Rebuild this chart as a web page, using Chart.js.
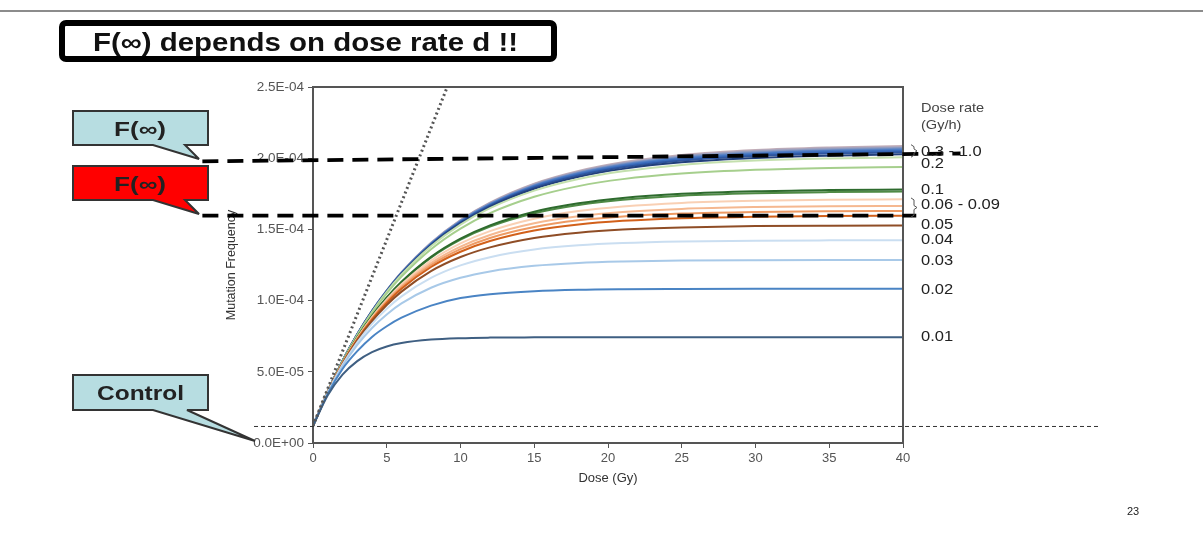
<!DOCTYPE html>
<html>
<head>
<meta charset="utf-8">
<script src="https://cdn.jsdelivr.net/npm/chart.js"></script>
<style>
  html, body { margin: 0; padding: 0; background: #fff; }
  #slide { position: relative; width: 1203px; height: 541px; overflow: hidden; }
  #grafico { position: absolute; left: 0; top: 0; }
  #overlay { position: absolute; left: 0; top: 0; pointer-events: none; }
</style>
</head>
<body>
<div id="slide">
  <canvas id="grafico" width="1203" height="541"></canvas>
  <svg id="overlay" width="1203" height="541" xmlns="http://www.w3.org/2000/svg">
    <line x1="0" y1="11" x2="1203" y2="11" stroke="#8c8c8c" stroke-width="2"/>
    <rect x="62" y="23" width="492" height="36" rx="4" fill="#fff" stroke="#000" stroke-width="6"/>
    <text x="93" y="51" textLength="425" lengthAdjust="spacingAndGlyphs" font-family="Liberation Sans, Arial, sans-serif" font-weight="bold" font-size="25" fill="#111">F(∞) depends on dose rate d !!</text>

    <path d="M73,111 H208 V145 H185 L199,159 L153,145 H73 Z" fill="#b7dde1" stroke="#333" stroke-width="2"/>
    <text x="114" y="136" textLength="52" lengthAdjust="spacingAndGlyphs" font-family="Liberation Sans, Arial, sans-serif" font-weight="bold" font-size="20" fill="#222">F(∞)</text>

    <path d="M73,166 H208 V200 H185 L199,214 L153,200 H73 Z" fill="#ff0000" stroke="#333" stroke-width="2"/>
    <text x="114" y="191" textLength="52" lengthAdjust="spacingAndGlyphs" font-family="Liberation Sans, Arial, sans-serif" font-weight="bold" font-size="20" fill="#222">F(∞)</text>

    <path d="M73,375 H208 V410 H187 L255,441 L153,410 H73 Z" fill="#b7dde1" stroke="#333" stroke-width="2"/>
    <text x="97" y="400" textLength="87" lengthAdjust="spacingAndGlyphs" font-family="Liberation Sans, Arial, sans-serif" font-weight="bold" font-size="20" fill="#222">Control</text>

    <text x="1133" y="515" text-anchor="middle" font-family="Liberation Sans, Arial, sans-serif" font-size="11" fill="#222">23</text>
  </svg>
</div>
<script>
// dosis (Gy) en que se leyeron las curvas
const doseGy = [0, 1, 2, 3, 4, 5, 6, 8, 10, 12, 15, 18, 21, 25, 30, 35, 40]

// frecuencia de mutación, en unidades de 1E-06, una lista por tasa de dosis (Gy/h)
const mf0_01 = [12, 33.5, 48, 57.5, 63.8, 67.8, 70.2, 72.6, 73.6, 74.0, 74.2, 74.3, 74.3, 74.3, 74.3, 74.3, 74.3]
const mf0_02 = [12, 34.5, 52, 64.5, 74.5, 82, 88, 96.5, 101.8, 104.5, 106.6, 107.6, 108, 108.2, 108.3, 108.3, 108.3]
const mf0_03 = [12, 35.3, 53.9, 68.9, 80.8, 90.3, 98.0, 109.0, 116.0, 120.5, 124.4, 126.4, 127.4, 128.1, 128.4, 128.5, 128.5]
const mf0_04 = [12, 35.6, 54.9, 70.7, 83.7, 94.3, 103.0, 115.9, 124.7, 130.5, 135.9, 138.8, 140.4, 141.5, 142.1, 142.3, 142.4]
const mf0_05 = [12, 35.7, 55.5, 71.9, 85.5, 96.9, 106.3, 120.7, 130.6, 137.4, 144.0, 147.7, 149.9, 151.4, 152.3, 152.6, 152.7]
const mf0_06 = [12, 35.8, 55.8, 72.6, 86.7, 98.4, 108.3, 123.6, 134.3, 141.8, 149.2, 153.5, 156.0, 157.9, 158.9, 159.4, 159.6]
const mf0_07 = [12, 35.9, 56.0, 72.9, 87.2, 99.2, 109.3, 125.0, 136.1, 144.0, 151.7, 156.4, 159.1, 161.1, 162.3, 162.8, 163.0]
const mf0_08 = [12, 35.9, 56.2, 73.3, 87.7, 99.9, 110.3, 126.4, 137.9, 146.1, 154.3, 159.2, 162.2, 164.4, 165.7, 166.3, 166.5]
const mf0_09 = [12, 36.0, 56.4, 73.7, 88.4, 100.9, 111.5, 128.1, 140.2, 148.8, 157.5, 162.9, 166.1, 168.6, 170.1, 170.8, 171.1]
const mf0_1a = [12, 36.1, 56.7, 74.2, 89.3, 102.2, 113.2, 130.7, 143.5, 152.8, 162.4, 168.3, 172.1, 175.0, 176.8, 177.6, 178.0]
const mf0_1b = [12, 36.0, 56.6, 74.1, 89.1, 101.9, 112.8, 130.2, 142.8, 152.0, 161.4, 167.2, 170.9, 173.7, 175.4, 176.2, 176.6]
const mf0_2a = [12, 36.2, 57.2, 75.5, 91.3, 105.0, 116.8, 136.1, 150.6, 161.4, 172.9, 180.4, 185.3, 189.2, 191.9, 193.2, 193.8]
const mf0_2b = [12, 36.3, 57.5, 75.9, 92.0, 106.1, 118.3, 138.2, 153.4, 164.9, 177.2, 185.4, 190.8, 195.3, 198.3, 199.8, 200.6]
const mf0_3 = [12, 36.3, 57.5, 76.0, 92.3, 106.3, 118.7, 138.9, 154.2, 165.9, 178.5, 186.9, 192.5, 197.1, 200.2, 201.8, 202.7]
const mf0_4 = [12, 36.3, 57.6, 76.1, 92.4, 106.6, 119.0, 139.3, 154.8, 166.6, 179.4, 187.9, 193.6, 198.4, 201.6, 203.3, 204.1]
const mf0_5 = [12, 36.3, 57.6, 76.2, 92.5, 106.7, 119.2, 139.6, 155.2, 167.1, 180.0, 188.6, 194.4, 199.2, 202.5, 204.2, 205.1]
const mf0_6 = [12, 36.3, 57.6, 76.3, 92.6, 106.8, 119.4, 139.8, 155.5, 167.5, 180.5, 189.2, 195.0, 199.9, 203.2, 205.0, 205.9]
const mf0_7 = [12, 36.3, 57.7, 76.3, 92.7, 106.9, 119.5, 140.0, 155.8, 167.8, 180.9, 189.6, 195.6, 200.5, 203.9, 205.6, 206.6]
const mf0_8 = [12, 36.3, 57.7, 76.3, 92.7, 107.0, 119.6, 140.2, 156.1, 168.2, 181.3, 190.1, 196.1, 201.1, 204.5, 206.3, 207.2]
const mf0_9 = [12, 36.3, 57.7, 76.4, 92.8, 107.1, 119.7, 140.4, 156.3, 168.4, 181.7, 190.5, 196.6, 201.6, 205.1, 206.9, 207.8]
const mf1_0 = [12, 36.3, 57.7, 76.4, 92.9, 107.2, 119.9, 140.6, 156.6, 168.8, 182.1, 191.0, 197.1, 202.2, 205.7, 207.5, 208.5]

// recta punteada (pendiente inicial)
const tangentDose = [0, 9.1]
const tangentFreq = [12, 250]

// líneas de nivel: F(∞) alto, F(∞) bajo y control
const fInfHighDose = [-7.5, 43.9]
const fInfHighFreq = [197.8, 203.3]
const fInfLowDose = [-7.5, 40.9]
const fInfLowFreq = [159.7, 159.7]
const controlDose = [-4, 53.4]
const controlFreq = [11.6, 11.6]

// etiquetas de tasa de dosis a la derecha
const rateLabels = ['0.3 - 1.0', '0.2', '0.1', '0.06 - 0.09', '0.05', '0.04', '0.03', '0.02', '0.01']
const rateLabelFreq = [204.2, 195.8, 177.8, 166.7, 152.8, 142.4, 127.8, 107.6, 74.3]

const yTicks = [0, 50, 100, 150, 200, 250]
const xTicks = [0, 5, 10, 15, 20, 25, 30, 35, 40]

const curvas = [
    {data: mf0_01, color: '#3f5f82'},
    {data: mf0_02, color: '#4a84c4'},
    {data: mf0_03, color: '#a8c9e8'},
    {data: mf0_04, color: '#cadef1'},
    {data: mf0_05, color: '#8f4d26'},
    {data: mf0_06, color: '#d2601a'},
    {data: mf0_07, color: '#ee9a63'},
    {data: mf0_08, color: '#f5b890'},
    {data: mf0_09, color: '#f9d0b4'},
    {data: mf0_1a, color: '#2e6b2e'},
    {data: mf0_1b, color: '#4f8a45'},
    {data: mf0_2a, color: '#a6cf8d'},
    {data: mf0_2b, color: '#c4e0ae'},
    {data: mf0_3, color: '#22407c'},
    {data: mf0_4, color: '#2e569f'},
    {data: mf0_5, color: '#3a6cbc'},
    {data: mf0_6, color: '#4d7cc4'},
    {data: mf0_7, color: '#6d8cc4'},
    {data: mf0_8, color: '#8f9bc0'},
    {data: mf0_9, color: '#aba6bd'},
    {data: mf1_0, color: '#c3aeb8'}
]

const datasets = [{
    data: tangentDose.map((d, i) => ({x: d, y: tangentFreq[i]})),
    borderColor: '#555',
    borderWidth: 3,
    borderDash: [2, 3],
    pointRadius: 0
}]
curvas.forEach((c) => {
    datasets.push({
        data: doseGy.map((d, i) => ({x: d, y: c.data[i]})),
        borderColor: c.color,
        borderWidth: 2,
        pointRadius: 0,
        cubicInterpolationMode: 'monotone'
    })
})

// formato 5.0E-05
function formatoCientifico(v) {
    if (v === 0) return '0.0E+00'
    const real = v * 1e-6
    const exp = Math.floor(Math.log10(real) + 1e-9)
    const mant = real / Math.pow(10, exp)
    const signo = exp < 0 ? '-' : '+'
    return `${mant.toFixed(1)}E${signo}${String(Math.abs(exp)).padStart(2, '0')}`
}

const fontNarrow = "'Liberation Sans Narrow', 'DejaVu Sans Condensed', sans-serif"
const fontSans = "'Liberation Sans', Arial, sans-serif"

// la diapositiva original está estirada en horizontal
function textoEstirado(ctx, txt, x, y, sx) {
    ctx.save()
    ctx.translate(x, y)
    ctx.scale(sx, 1)
    ctx.fillText(txt, 0, 0)
    ctx.restore()
}

const anotaciones = {
    id: 'anotaciones',
    afterDatasetsDraw(chart) {
        const {ctx, chartArea, scales: {x, y}} = chart
        ctx.save()
        // marco
        ctx.strokeStyle = '#555'
        ctx.lineWidth = 2
        ctx.strokeRect(chartArea.left, chartArea.top, chartArea.right - chartArea.left, chartArea.bottom - chartArea.top)

        // línea de control
        ctx.strokeStyle = '#333'
        ctx.lineWidth = 1
        ctx.setLineDash([4, 3])
        ctx.beginPath()
        ctx.moveTo(x.getPixelForValue(controlDose[0]), y.getPixelForValue(controlFreq[0]))
        ctx.lineTo(x.getPixelForValue(controlDose[1]), y.getPixelForValue(controlFreq[1]))
        ctx.stroke()

        // líneas F(∞)
        ctx.strokeStyle = '#000'
        ctx.lineWidth = 3.8
        ctx.setLineDash([16, 9])
        ;[[fInfHighDose, fInfHighFreq], [fInfLowDose, fInfLowFreq]].forEach(([ds, fs]) => {
            ctx.beginPath()
            ctx.moveTo(x.getPixelForValue(ds[0]), y.getPixelForValue(fs[0]))
            ctx.lineTo(x.getPixelForValue(ds[1]), y.getPixelForValue(fs[1]))
            ctx.stroke()
        })
        ctx.setLineDash([])

        // corchetes
        ctx.strokeStyle = '#555'
        ctx.lineWidth = 1
        const xr = chartArea.right + 8
        const corchete = (f1, f2) => {
            const y1 = y.getPixelForValue(f1), y2 = y.getPixelForValue(f2)
            const ym = (y1 + y2) / 2
            ctx.beginPath()
            ctx.moveTo(xr, y1)
            ctx.lineTo(xr + 3, y1 + 2)
            ctx.lineTo(xr + 3, ym - 2)
            ctx.lineTo(xr + 6, ym)
            ctx.lineTo(xr + 3, ym + 2)
            ctx.lineTo(xr + 3, y2 - 2)
            ctx.lineTo(xr, y2)
            ctx.stroke()
        }
        corchete(mf1_0[mf1_0.length - 1] + 1, mf0_3[mf0_3.length - 1] - 2)
        corchete(mf0_09[mf0_09.length - 1] + 1, mf0_06[mf0_06.length - 1] - 1)

        // etiquetas
        ctx.fillStyle = '#444'
        ctx.textAlign = 'left'
        ctx.textBaseline = 'middle'
        ctx.font = `13px ${fontSans}`
        textoEstirado(ctx, 'Dose rate', chartArea.right + 18, chartArea.top + 21, 1.12)
        textoEstirado(ctx, '(Gy/h)', chartArea.right + 18, chartArea.top + 38, 1.12)
        ctx.fillStyle = '#222'
        ctx.font = `14px ${fontSans}`
        rateLabels.forEach((lab, i) => {
            textoEstirado(ctx, lab, chartArea.right + 18, y.getPixelForValue(rateLabelFreq[i]), 1.18)
        })
        ctx.restore()
    }
}

const config = {
    type: 'line',
    data: {datasets: datasets},
    options: {
        responsive: false,
        animation: false,
        layout: {padding: {left: 220, top: 87, right: 300, bottom: 51}},
        plugins: {
            legend: {display: false},
            tooltip: {enabled: false}
        },
        scales: {
            x: {
                type: 'linear',
                min: 0,
                max: 40,
                afterFit: (s) => { s.height = 47 },
                afterBuildTicks: (s) => { s.ticks = xTicks.map(v => ({value: v})) },
                grid: {drawOnChartArea: false, tickLength: 5, color: '#555'},
                border: {color: '#555', width: 2},
                ticks: {color: '#555', font: {size: 13, family: fontSans}, padding: 3},
                title: {display: true, text: 'Dose (Gy)', color: '#333', font: {size: 13, family: fontSans}, padding: 4}
            },
            y: {
                type: 'linear',
                min: 0,
                max: 250,
                afterFit: (s) => { s.width = 93 },
                afterBuildTicks: (s) => { s.ticks = yTicks.map(v => ({value: v})) },
                grid: {drawOnChartArea: false, tickLength: 5, color: '#555'},
                border: {color: '#555', width: 2},
                ticks: {color: '#555', font: {size: 13.5, family: fontSans}, padding: 4, callback: (v) => formatoCientifico(v)},
                title: {display: true, text: 'Mutation Frequency', color: '#333', font: {size: 12.5, family: fontSans}, padding: 4}
            }
        }
    },
    plugins: [anotaciones]
}

const myChart = document.getElementById('grafico')
let graficoMutacion = new Chart(myChart, config)
</script>
</body>
</html>
